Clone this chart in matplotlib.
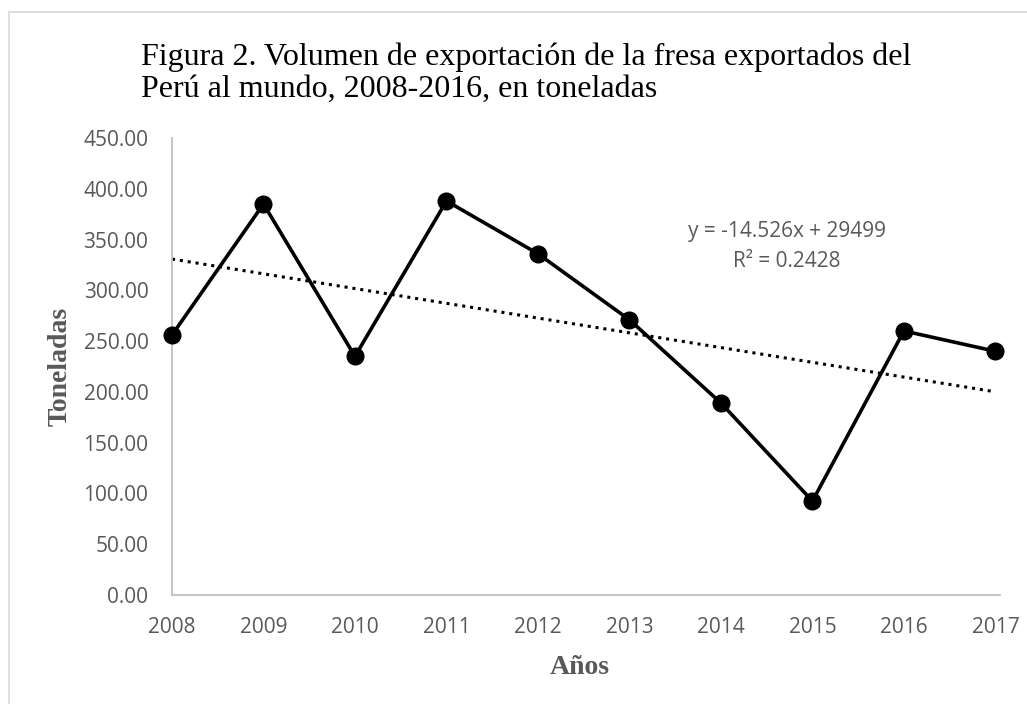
import numpy as np
import matplotlib.pyplot as plt
from matplotlib.patches import Rectangle

# data
years = [2008, 2009, 2010, 2011, 2012, 2013, 2014, 2015, 2016, 2017]
toneladas = [256, 385, 235, 388, 336, 271, 189, 92.5, 260, 240]
yticks = [0, 50, 100, 150, 200, 250, 300, 350, 400, 450]

W, H = 1027, 704
gray = "#595959"
serif = "Liberation Serif"
sans = "Open Sans"

fig = plt.figure(figsize=(W / 100, H / 100), dpi=100)
ax = fig.add_axes([172 / W, 1 - 595 / H, 828 / W, 457 / H])

# frame round the chart area
fig.patches.append(Rectangle((9 / W, -0.1), 1.2, 1 - 12 / H + 0.1,
                             transform=fig.transFigure, fill=False,
                             edgecolor="#d9d9d9", linewidth=1.2))

x = np.array(years)
y = np.array(toneladas)
ax.plot(x, y, color="black", linewidth=2.6, marker="o", markersize=12,
        zorder=3, clip_on=False)

# linear trend as in the source
m, b = -14.526, 29499
ax.plot(x, m * x + b, color="black", linestyle=(0, (1, 1.6)), linewidth=2.2,
        zorder=2)

fig.text(787 / W, 1 - 232 / H, "y = -14.526x + 29499", ha="center",
         va="center", fontsize=15, color=gray, family=sans)
fig.text(787 / W, 1 - 262 / H, "R² = 0.2428", ha="center", va="center",
         fontsize=15, color=gray, family=sans)

ax.set_xlim(2008, 2017.05)
ax.set_ylim(0, 450)
ax.set_xticks(years)
ax.set_yticks(yticks)
ax.set_yticklabels(["{:.2f}".format(v) for v in yticks])
ax.tick_params(length=0, labelsize=15, labelcolor=gray)
ax.tick_params(axis="x", pad=16)
ax.tick_params(axis="y", pad=17)
for lab in ax.get_xticklabels() + ax.get_yticklabels():
    lab.set_family(sans)

for s in ["top", "right"]:
    ax.spines[s].set_visible(False)
for s in ["left", "bottom"]:
    ax.spines[s].set_color("#bfbfbf")
    ax.spines[s].set_linewidth(1.3)

# axis titles
fig.text(580 / W, 1 - 668 / H, "Años", ha="center", va="center",
         family=serif, fontweight="bold", fontsize=20, color=gray)
fig.text(60 / W, 1 - 366 / H, "Toneladas", ha="center", va="center",
         rotation=90, family=serif, fontweight="bold", fontsize=20, color=gray)

# baseline of the last title line
fig.text(141 / W, 1 - 97 / H,
         "Figura 2. Volumen de exportación de la fresa exportados del\n"
         "Perú al mundo, 2008-2016, en toneladas",
         ha="left", va="baseline", family=serif, fontsize=23, color="black",
         linespacing=1.14)

fig.savefig("out.png", dpi=100)
